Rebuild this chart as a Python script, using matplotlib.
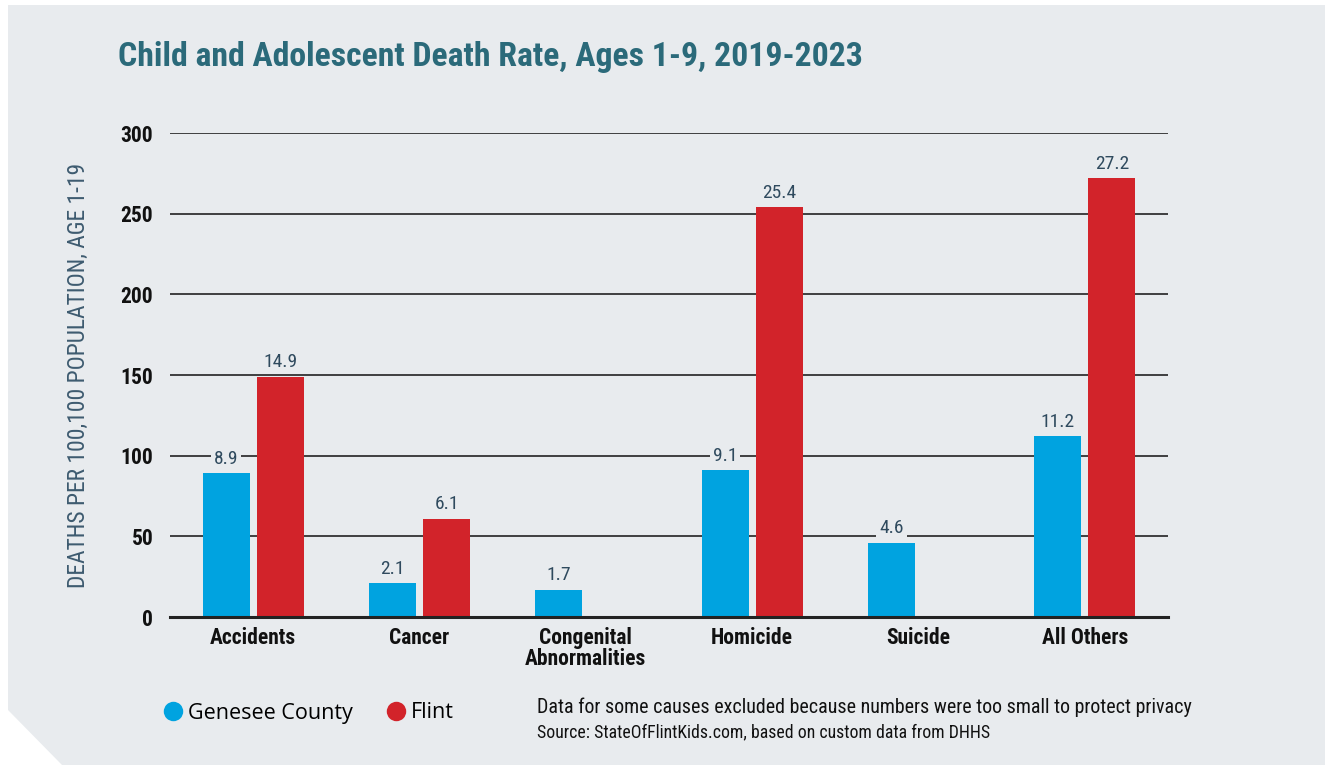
import numpy as np
import matplotlib.pyplot as plt
from matplotlib import font_manager as fm
from matplotlib.patches import Polygon
from matplotlib.lines import Line2D

# ------------------------------------------------------------
# Data (rates as labelled; bars are drawn on the x10 axis scale)
# ------------------------------------------------------------
categories = ["Accidents", "Cancer", "Congenital\nAbnormalities",
              "Homicide", "Suicide", "All Others"]
genesee = [8.9, 2.1, 1.7, 9.1, 4.6, 11.2]
flint = [14.9, 6.1, None, 25.4, None, 27.2]
y_ticks = [0, 50, 100, 150, 200, 250, 300]

BG = "#e8ebee"
BLUE = "#00a3e0"
RED = "#d2232a"
TEAL = "#2b6a7a"
SLATE = "#2f4a5e"

# pick a narrow face if one is installed
names = {f.name for f in fm.fontManager.ttflist}
files = [f.fname for f in fm.fontManager.ttflist]
if "Roboto Condensed" in names:
    NARROW, STRETCH = ["Roboto Condensed", "DejaVu Sans"], "normal"
elif "Liberation Sans Narrow" in names:
    NARROW, STRETCH = ["Liberation Sans Narrow", "DejaVu Sans"], "normal"
elif any("DejaVuSansCondensed" in f for f in files):
    NARROW, STRETCH = ["DejaVu Sans"], "condensed"
else:
    NARROW, STRETCH = ["Roboto", "DejaVu Sans"], "normal"

W, H = 1325, 765
fig = plt.figure(figsize=(W / 100, H / 100), dpi=100)
fig.patch.set_facecolor("white")

# Panel with clipped bottom-left corner (pixel coords -> figure fraction)
pts = [(8, 5), (1325, 5), (1325, 765), (62, 765), (8, 710)]
panel = Polygon([(x / W, 1 - y / H) for x, y in pts], closed=True,
                transform=fig.transFigure, facecolor=BG, edgecolor="none",
                zorder=-5)
fig.patches.append(panel)

ax = fig.add_axes([170 / W, 1 - 617 / H, (1168 - 170) / W, (617 - 133) / H])
ax.set_facecolor("none")
ax.set_zorder(2)

x = np.arange(len(categories))
bw = 0.283
off = 0.163

g_h = [v * 10 for v in genesee]
f_h = [v * 10 if v is not None else 0 for v in flint]

ax.bar(x - off, g_h, width=bw, color=BLUE, zorder=2)
ax.bar(x + off, f_h, width=bw, color=RED, zorder=2)


def label(xpos, val):
    ax.annotate(f"{val}", (xpos, val * 10), xytext=(0, 4),
                textcoords="offset points", ha="center", va="bottom",
                fontsize=14, color=SLATE, family=NARROW, fontstretch=STRETCH,
                zorder=3,
                bbox=dict(boxstyle="square,pad=0.15", facecolor=BG,
                          edgecolor="none"))


for i, v in enumerate(genesee):
    label(x[i] - off, v)
for i, v in enumerate(flint):
    if v is not None:
        label(x[i] + off, v)

ax.set_xlim(-0.5, len(categories) - 0.5)
ax.set_ylim(0, 300)
ax.set_yticks(y_ticks)
ax.yaxis.grid(True, color="#222222", linewidth=1.2, zorder=1)
ax.set_axisbelow(True)

for s in ["top", "right", "left"]:
    ax.spines[s].set_visible(False)
ax.spines["bottom"].set_color("#222222")
ax.spines["bottom"].set_linewidth(2.2)
ax.spines["bottom"].set_zorder(4)

ax.set_xticks(x)
ax.set_xticklabels(categories, linespacing=0.95)
ax.tick_params(axis="both", length=0)
ax.tick_params(axis="y", pad=12)
ax.tick_params(axis="x", pad=7)
for t in ax.get_xticklabels() + ax.get_yticklabels():
    t.set_family(NARROW)
    t.set_fontstretch(STRETCH)
    t.set_fontweight("bold")
    t.set_fontsize(15.5)
    t.set_color("#111111")

ylab = ax.set_ylabel("DEATHS PER 100,100 POPULATION, AGE 1-19", family=NARROW,
                     fontstretch=STRETCH, fontsize=17, color="#3e5b70",
                     labelpad=22)

# Title
title = fig.text(118 / W, 1 - 57 / H,
                 "Child and Adolescent Death Rate, Ages 1-9, 2019-2023",
                 family=NARROW, fontstretch=STRETCH, fontweight="bold",
                 fontsize=25, color=TEAL, ha="left", va="center")

# Legend
handles = [
    Line2D([], [], marker="o", linestyle="none", markersize=14,
           markerfacecolor=BLUE, markeredgecolor="none", label="Genesee County"),
    Line2D([], [], marker="o", linestyle="none", markersize=14,
           markerfacecolor=RED, markeredgecolor="none", label="Flint"),
]
fig.legend(handles=handles, loc="center left",
           bbox_to_anchor=(143 / W, 1 - 713 / H), ncol=2, frameon=False,
           handletextpad=0.2, columnspacing=1.5, handlelength=1.0,
           prop={"family": "Open Sans", "size": 15.5})

# Notes
note1 = fig.text(537 / W, 1 - 707 / H,
                 "Data for some causes excluded because numbers were too small to protect privacy",
                 family=NARROW, fontstretch=STRETCH, fontsize=15,
                 color="#111111", ha="left", va="center")
note2 = fig.text(537 / W, 1 - 732 / H,
                 "Source: StateOfFlintKids.com, based on custom data from DHHS",
                 family=NARROW, fontstretch=STRETCH, fontsize=12.5,
                 color="#111111", ha="left", va="center")

# fit texts to the extent they take up in the original
renderer = fig.canvas.get_renderer()
for t, target, vertical in [(title, 747, False), (note1, 655, False),
                            (note2, 453, False), (ylab, 425, True)]:
    bb = t.get_window_extent(renderer)
    size = bb.height if vertical else bb.width
    t.set_fontsize(t.get_fontsize() * target / size)

fig.savefig("out.png", dpi=100, facecolor=fig.get_facecolor())
